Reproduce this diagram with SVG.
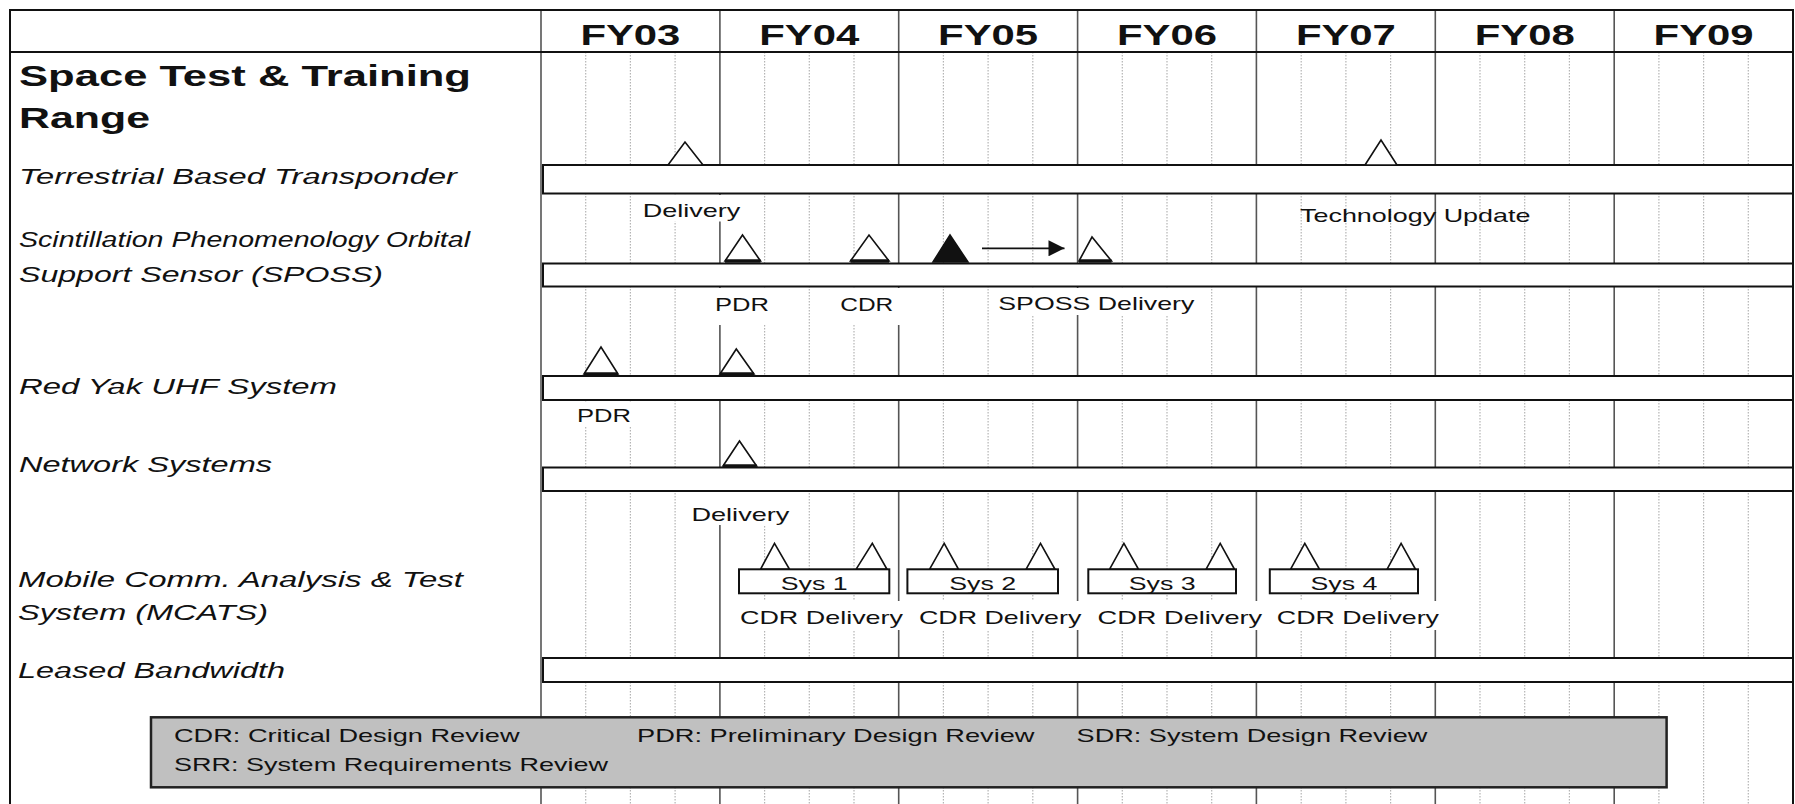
<svg xmlns="http://www.w3.org/2000/svg" width="1795" height="804" viewBox="0 0 1795 804">
<defs>
<style>
.bg{fill:#ffffff}
.dot{stroke:#b4b4b4;stroke-width:1.2;stroke-dasharray:1.5 1.5;fill:none}
.year{stroke:#555555;stroke-width:1.6;fill:none}
.frame{stroke:#111111;stroke-width:2;fill:none}
.bar{fill:#ffffff;stroke:#111111;stroke-width:2}
.tri{fill:#ffffff;stroke:#111111;stroke-width:1.6}
.trif{fill:#111111;stroke:#111111;stroke-width:1.6}
.base{stroke:#111111;stroke-width:3.5}
.lblbg{fill:#ffffff}
.box{fill:#ffffff;stroke:#111111;stroke-width:2}
.legend{fill:#c0c0c0;stroke:#222222;stroke-width:2.5}
.hdr{font-family:"Liberation Sans",Arial,sans-serif;font-weight:bold;font-size:30px;fill:#111111}
.title{font-family:"Liberation Sans",Arial,sans-serif;font-weight:bold;font-size:30px;fill:#111111}
.row{font-family:"Liberation Sans",Arial,sans-serif;font-style:italic;font-size:22px;fill:#111111}
.ms{font-family:"Liberation Sans",Arial,sans-serif;font-size:19px;fill:#111111}
.lg{font-family:"Liberation Sans",Arial,sans-serif;font-size:19px;fill:#111111}
</style>
<marker id="ah" viewBox="0 0 10 10" refX="10" refY="5" markerWidth="23" markerHeight="16" markerUnits="userSpaceOnUse" orient="auto">
<path d="M0,0 L10,5 L0,10 z" fill="#111111"/>
</marker>
</defs>
<rect class="bg" x="0" y="0" width="1795" height="804"/>
<g id="grid">
<path class="dot" d="M585.7,52V804M630.4,52V804M675.1,52V804M764.6,52V804M809.3,52V804M854,52V804M943.4,52V804M988.1,52V804M1032.8,52V804M1122.3,52V804M1167,52V804M1211.7,52V804M1301.2,52V804M1345.9,52V804M1390.6,52V804M1480,52V804M1524.7,52V804M1569.4,52V804M1658.9,52V804M1703.6,52V804M1748.3,52V804"/>
<path class="year" d="M541,10V804M719.9,10V804M898.7,10V804M1077.6,10V804M1256.4,10V804M1435.3,10V804M1614.2,10V804"/>
<path class="frame" d="M10,804V10H1793V804M10,52H1793"/>
</g>
<g id="header">
<text class="hdr" x="630.4" y="45" text-anchor="middle" textLength="100" lengthAdjust="spacingAndGlyphs">FY03</text>
<text class="hdr" x="809.3" y="45" text-anchor="middle" textLength="100" lengthAdjust="spacingAndGlyphs">FY04</text>
<text class="hdr" x="988.1" y="45" text-anchor="middle" textLength="100" lengthAdjust="spacingAndGlyphs">FY05</text>
<text class="hdr" x="1167" y="45" text-anchor="middle" textLength="100" lengthAdjust="spacingAndGlyphs">FY06</text>
<text class="hdr" x="1345.9" y="45" text-anchor="middle" textLength="100" lengthAdjust="spacingAndGlyphs">FY07</text>
<text class="hdr" x="1524.7" y="45" text-anchor="middle" textLength="100" lengthAdjust="spacingAndGlyphs">FY08</text>
<text class="hdr" x="1703.6" y="45" text-anchor="middle" textLength="100" lengthAdjust="spacingAndGlyphs">FY09</text>
</g>
<g id="title">
<text class="title" x="19" y="86" textLength="452" lengthAdjust="spacingAndGlyphs">Space Test &amp; Training</text>
<text class="title" x="19" y="128" textLength="131" lengthAdjust="spacingAndGlyphs">Range</text>
</g>
<g id="tbt">
<text class="row" x="19" y="184" textLength="438" lengthAdjust="spacingAndGlyphs">Terrestrial Based Transponder</text>
<rect class="bar" x="543" y="165" width="1250" height="28.5"/>
<polygon class="tri" points="668,165 685,142 703,165"/>
<polygon class="tri" points="1365,165 1381,140 1397,165"/>
<rect class="lblbg" x="640" y="195" width="104" height="26.5"/>
<text class="ms" x="642.7" y="216.7" textLength="97.5" lengthAdjust="spacingAndGlyphs">Delivery</text>
<text class="ms" x="1300" y="221.5" textLength="230.5" lengthAdjust="spacingAndGlyphs">Technology Update</text>
</g>
<g id="sposs">
<text class="row" x="19" y="247" textLength="451" lengthAdjust="spacingAndGlyphs">Scintillation Phenomenology Orbital</text>
<text class="row" x="19" y="282" textLength="364" lengthAdjust="spacingAndGlyphs">Support Sensor (SPOSS)</text>
<rect class="bar" x="543" y="263.5" width="1250" height="23"/>
<polygon class="tri" points="725,261 742.5,235 760.5,261"/>
<line class="base" x1="725" y1="261" x2="760.5" y2="261"/>
<polygon class="tri" points="850.5,261 869,235 889,261"/>
<line class="base" x1="850.5" y1="261" x2="889" y2="261"/>
<polygon class="trif" points="933,262 950,235 968,262"/>
<polygon class="tri" points="1079,261 1092,237 1111.5,261"/>
<line class="base" x1="1079" y1="261" x2="1111.5" y2="261"/>
<rect class="lblbg" x="712" y="288" width="60" height="37"/>
<rect class="lblbg" x="837" y="288" width="65" height="37"/>
<rect class="lblbg" x="995" y="288" width="203" height="27"/>
<text class="ms" x="715" y="311" textLength="54" lengthAdjust="spacingAndGlyphs">PDR</text>
<text class="ms" x="840.3" y="311" textLength="53" lengthAdjust="spacingAndGlyphs">CDR</text>
<text class="ms" x="998.3" y="310" textLength="196" lengthAdjust="spacingAndGlyphs">SPOSS Delivery</text>
</g>
<g id="redyak">
<text class="row" x="19" y="394" textLength="318" lengthAdjust="spacingAndGlyphs">Red Yak UHF System</text>
<rect class="bar" x="543" y="376" width="1250" height="24"/>
<polygon class="tri" points="584,374 601,347 618,374"/>
<line class="base" x1="584" y1="374" x2="618" y2="374"/>
<polygon class="tri" points="720,374 736.3,349 754,374"/>
<line class="base" x1="720" y1="374" x2="754" y2="374"/>
<rect class="lblbg" x="575" y="402" width="58" height="24"/>
<text class="ms" x="577" y="421.7" textLength="54" lengthAdjust="spacingAndGlyphs">PDR</text>
</g>
<g id="network">
<text class="row" x="19" y="471.5" textLength="253" lengthAdjust="spacingAndGlyphs">Network Systems</text>
<rect class="bar" x="543" y="467.5" width="1250" height="23.5"/>
<polygon class="tri" points="723,466 739.5,441 756.6,466"/>
<line class="base" x1="723" y1="466" x2="756.6" y2="466"/>
<rect class="lblbg" x="689" y="492" width="103" height="33"/>
<text class="ms" x="691.4" y="520.7" textLength="98" lengthAdjust="spacingAndGlyphs">Delivery</text>
</g>
<g id="mcats">
<text class="row" x="18" y="587" textLength="445" lengthAdjust="spacingAndGlyphs">Mobile Comm. Analysis &amp; Test</text>
<text class="row" x="18" y="620" textLength="250" lengthAdjust="spacingAndGlyphs">System (MCATS)</text>
<g id="sys1">
<polygon class="tri" points="760.5,569.3 774.5,543.3 789.5,569.3"/>
<polygon class="tri" points="856,569.3 872.3,543.3 887,569.3"/>
<rect class="box" x="739" y="569.3" width="150.3" height="24"/>
<text class="ms" x="814.2" y="590" text-anchor="middle" textLength="67" lengthAdjust="spacingAndGlyphs">Sys 1</text>
<rect class="lblbg" x="738" y="601" width="167" height="29"/>
<text class="ms" x="740" y="624" textLength="163" lengthAdjust="spacingAndGlyphs">CDR Delivery</text>
</g>
<g id="sys2">
<polygon class="tri" points="929.5,569.3 944.2,543.3 958.5,569.3"/>
<polygon class="tri" points="1026,569.3 1040.5,543.3 1055,569.3"/>
<rect class="box" x="907.4" y="569.3" width="150.6" height="24"/>
<text class="ms" x="982.7" y="590" text-anchor="middle" textLength="67" lengthAdjust="spacingAndGlyphs">Sys 2</text>
<rect class="lblbg" x="917" y="601" width="166" height="29"/>
<text class="ms" x="919" y="624" textLength="162.3" lengthAdjust="spacingAndGlyphs">CDR Delivery</text>
</g>
<g id="sys3">
<polygon class="tri" points="1109.5,569.3 1123.9,543.3 1138.5,569.3"/>
<polygon class="tri" points="1206,569.3 1220.2,543.3 1234.5,569.3"/>
<rect class="box" x="1088.3" y="569.3" width="147.7" height="24"/>
<text class="ms" x="1162.2" y="590" text-anchor="middle" textLength="67" lengthAdjust="spacingAndGlyphs">Sys 3</text>
<rect class="lblbg" x="1096" y="601" width="168" height="29"/>
<text class="ms" x="1097.6" y="624" textLength="164.6" lengthAdjust="spacingAndGlyphs">CDR Delivery</text>
</g>
<g id="sys4">
<polygon class="tri" points="1290.5,569.3 1304.8,543.3 1319.5,569.3"/>
<polygon class="tri" points="1387,569.3 1401.1,543.3 1415.5,569.3"/>
<rect class="box" x="1269.8" y="569.3" width="148.2" height="24"/>
<text class="ms" x="1343.9" y="590" text-anchor="middle" textLength="67" lengthAdjust="spacingAndGlyphs">Sys 4</text>
<rect class="lblbg" x="1275" y="601" width="166" height="29"/>
<text class="ms" x="1276.8" y="624" textLength="162.2" lengthAdjust="spacingAndGlyphs">CDR Delivery</text>
</g>
</g>
<g id="leased">
<text class="row" x="18" y="678" textLength="267" lengthAdjust="spacingAndGlyphs">Leased Bandwidth</text>
<rect class="bar" x="543" y="658" width="1250" height="24"/>
</g>
<g id="legend">
<rect class="legend" x="151" y="717.3" width="1515.6" height="70"/>
<text class="lg" x="174" y="742" textLength="345.5" lengthAdjust="spacingAndGlyphs">CDR: Critical Design Review</text>
<text class="lg" x="637" y="742" textLength="397.5" lengthAdjust="spacingAndGlyphs">PDR: Preliminary Design Review</text>
<text class="lg" x="1076.6" y="742" textLength="350.7" lengthAdjust="spacingAndGlyphs">SDR: System Design Review</text>
<text class="lg" x="174" y="770.5" textLength="434" lengthAdjust="spacingAndGlyphs">SRR: System Requirements Review</text>
</g>
<g id="connectors">
<line x1="982" y1="248.3" x2="1064.5" y2="248.3" stroke="#111111" stroke-width="1.8" marker-end="url(#ah)"/>
</g>
</svg>
